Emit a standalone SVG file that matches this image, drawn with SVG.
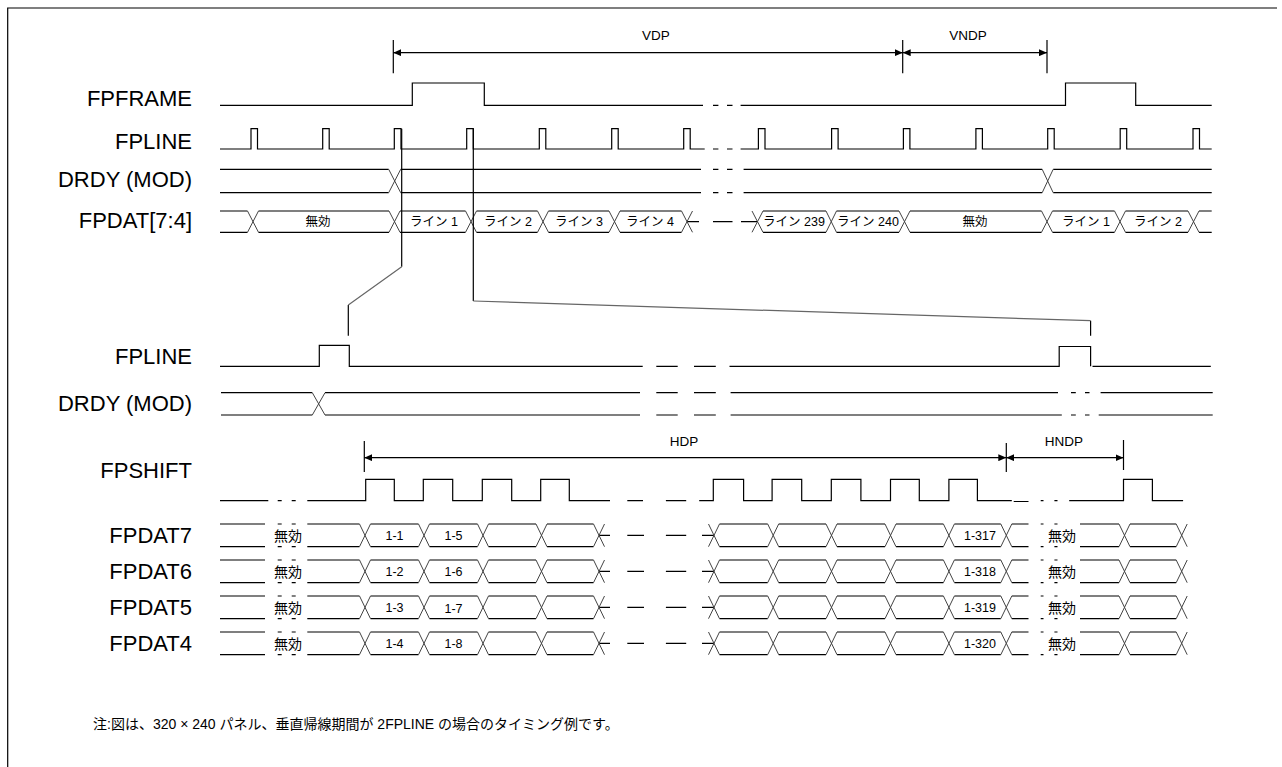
<svg xmlns="http://www.w3.org/2000/svg" width="1282" height="767" viewBox="0 0 1282 767">
<style>
.s{fill:none;stroke:#000;stroke-width:1.2}
.x{fill:none;stroke:#444;stroke-width:1}
.c{fill:none;stroke:#666;stroke-width:1.2}
.d{fill:none;stroke:#000;stroke-width:1.2;marker-start:url(#ah);marker-end:url(#ah)}
.lbl{font-family:"Liberation Sans",Arial,sans-serif;font-size:22px;text-anchor:end;fill:#000}
.dim{font-family:"Liberation Sans",Arial,sans-serif;font-size:13.5px;text-anchor:middle;fill:#000}
.jp{font-family:"Liberation Sans","Noto Sans CJK JP",sans-serif;font-size:12.5px;text-anchor:middle;fill:#000}
.jl{font-family:"Liberation Sans","Noto Sans CJK JP",sans-serif;font-size:14px;text-anchor:middle;fill:#000}
.nt{font-family:"Liberation Sans","Noto Sans CJK JP",sans-serif;font-size:14px;fill:#000}
</style>
<defs>
<marker id="ah" viewBox="0 0 8 7" refX="8" refY="3.5" markerWidth="8" markerHeight="7" markerUnits="userSpaceOnUse" orient="auto-start-reverse"><path d="M0,0 L8,3.5 L0,7 z" fill="#000"/></marker>
</defs>
<rect width="1282" height="767" fill="#fff"/>
<g id="frame"><path class="s" d="M7.7,767 V8 H1277" stroke-width="1.5"/></g>

<g id="dim-vdp">
<path class="s" d="M393.3,40 V73.3 M902.7,40 V73.3 M1047,40 V73.3"/>
<path class="d" d="M393.3,52.7 H902.7"/>
<text class="dim" x="656" y="40">VDP</text>
</g>
<g id="dim-vndp">
<path class="d" d="M902.7,52.7 H1047"/>
<text class="dim" x="968" y="40">VNDP</text>
</g>

<g id="fpframe">
<text class="lbl" x="192" y="106">FPFRAME</text>
<path class="s" d="M220,105.3 H412.3 V83 H484.3 V105.3 H703 M713,105.3 H718.4 M727,105.3 H732.5 M740.6,105.3 H1065.5 V83 H1135.7 V105.3 H1211.7"/>
</g>

<g id="fpline-top">
<text class="lbl" x="192" y="149">FPLINE</text>
<path class="s" d="M220,149 H251 V128.7 H257.5 V149 H322.7 V128.7 H329.2 V149 H394.3 V128.7 H401 V149 H466.7 V128.7 H473.3 V149 H539.3 V128.7 H545.8 V149 H611.7 V128.7 H618.2 V149 H683.7 V128.7 H690.2 V149 H704.7 M713,149 H718.4 M727,149 H732.5 M740.6,149 H758.4 V128.7 H765 V149 H831.6 V128.7 H838.1 V149 H903.4 V128.7 H909.9 V149 H975.9 V128.7 H982.4 V149 H1047.7 V128.7 H1054.2 V149 H1120.2 V128.7 H1126.7 V149 H1193 V128.7 H1199.5 V149 H1211.7"/>
</g>

<g id="drdy-top">
<text class="lbl" x="192" y="187">DRDY (MOD)</text>
<path class="s" d="M220,169.3 H388.7 M400.7,169.3 H701 M713,169.3 H718.4 M727,169.3 H732.5 M743.6,169.3 H1042.2 M1053.2,169.3 H1211.7 M220,192.7 H388.7 M400.7,192.7 H701 M713,192.7 H718.4 M727,192.7 H732.5 M743.6,192.7 H1042.2 M1053.2,192.7 H1211.7"/>
<path class="x" d="M388.7,169.3 L400.7,192.7 M388.7,192.7 L400.7,169.3 M1042.2,169.3 L1053.2,192.7 M1042.2,192.7 L1053.2,169.3"/>
</g>

<g id="fpdat74">
<text class="lbl" x="192" y="228">FPDAT[7:4]</text>
<path class="s" d="M220,211 H247.5 M258.5,211 H389 M400,211 H465.5 M476.5,211 H537.5 M548.5,211 H609 M620,211 H681.5 M763,211 H826 M836.5,211 H899 M910,211 H1041.5 M1052.5,211 H1114.5 M1125.5,211 H1188 M1199,211 H1211.7 M220,232.3 H247.5 M258.5,232.3 H389 M400,232.3 H465.5 M476.5,232.3 H537.5 M548.5,232.3 H609 M620,232.3 H681.5 M763,232.3 H826 M836.5,232.3 H899 M910,232.3 H1041.5 M1052.5,232.3 H1114.5 M1125.5,232.3 H1188 M1199,232.3 H1211.7 M687,221.7 H699 M713,221.7 H732.5 M741,221.7 H757.5"/>
<path class="x" d="M247.5,211 L258.5,232.3 M247.5,232.3 L258.5,211 M389,211 L400,232.3 M389,232.3 L400,211 M465.5,211 L476.5,232.3 M465.5,232.3 L476.5,211 M537.5,211 L548.5,232.3 M537.5,232.3 L548.5,211 M609,211 L620,232.3 M609,232.3 L620,211 M681.5,211 L692.5,232.3 M681.5,232.3 L692.5,211 M752,211 L763,232.3 M752,232.3 L763,211 M826,211 L836.5,232.3 M826,232.3 L836.5,211 M899,211 L910,232.3 M899,232.3 L910,211 M1041.5,211 L1052.5,232.3 M1041.5,232.3 L1052.5,211 M1114.5,211 L1125.5,232.3 M1114.5,232.3 L1125.5,211 M1188,211 L1199,232.3 M1188,232.3 L1199,211"/>
<text class="jp" x="318" y="226">無効</text>
<text class="jp" x="434" y="226">ライン 1</text>
<text class="jp" x="508" y="226">ライン 2</text>
<text class="jp" x="579" y="226">ライン 3</text>
<text class="jp" x="650" y="226">ライン 4</text>
<text class="jp" x="794" y="226">ライン 239</text>
<text class="jp" x="868" y="226">ライン 240</text>
<text class="jp" x="975" y="226">無効</text>
<text class="jp" x="1086" y="226">ライン 1</text>
<text class="jp" x="1158" y="226">ライン 2</text>
</g>

<g id="connectors">
<path class="s" d="M401.7,128.7 V266.7 M348.3,305 V335.7 M473.3,128.7 V301 M1090.6,320.7 V335.7"/>
<path class="c" d="M401.7,266.7 L348.3,305 M473.3,301 L1090.6,320.7"/>
</g>

<g id="fpline-bottom">
<text class="lbl" x="192" y="364">FPLINE</text>
<path class="s" d="M220,366.3 H319.3 V345.3 H349.3 V366.3 H642.7 M656.3,366.3 H677.7 M694,366.3 H715.8 M729.5,366.3 H1059.2 V346.5 H1090.6 V366.3 M1092.5,366.3 H1210.8"/>
</g>

<g id="drdy-bottom">
<text class="lbl" x="192" y="411">DRDY (MOD)</text>
<path class="s" d="M221,392.7 H312.3 M325,392.7 H640 M656.3,392.7 H677.7 M694,392.7 H715.8 M730.6,392.7 H1058 M1071,392.7 H1075.8 M1085,392.7 H1089.5 M1100.6,392.7 H1212.7 M221,415 H312.3 M325,415 H640 M656.3,415 H677.7 M694,415 H715.8 M730.6,415 H1061.8 M1071,415 H1075.8 M1085,415 H1089.5 M1098.7,415 H1212.7"/>
<path class="x" d="M312.3,392.7 L325,415 M312.3,415 L325,392.7"/>
</g>

<g id="dim-hdp">
<path class="s" d="M364.3,441 V472 M1006.3,443 V472 M1123.5,440 V470"/>
<path class="d" d="M364.3,457.7 H1006.3"/>
<text class="dim" x="684" y="446">HDP</text>
</g>
<g id="dim-hndp">
<path class="d" d="M1006.3,457.7 H1123.5"/>
<text class="dim" x="1064" y="446">HNDP</text>
</g>

<g id="fpshift">
<text class="lbl" x="192" y="478">FPSHIFT</text>
<path class="s" d="M220,500.7 H268.3 M277.7,500.7 H281.7 M291.7,500.7 H295.7 M307.3,500.7 H365.7 V479.3 H394.3 V500.7 H423.3 V479.3 H452.7 V500.7 H482.3 V479.3 H511.7 V500.7 H540.7 V479.3 H569.3 V500.7 H610 M627.3,500.7 H643 M665.9,500.7 H686.2 M699.2,500.7 H713.3 V479.3 H743.6 V500.7 H772.1 V479.3 H801.7 V500.7 H831.3 V479.3 H860.9 V500.7 H890.5 V479.3 H919.3 V500.7 H948.9 V479.3 H977.4 V500.7 H1011.8 M1013.7,501.5 H1028.5 M1040.7,500.7 H1043.5 M1054.4,500.7 H1057.5 M1069.2,500.7 H1123.5 V479.3 H1152.4 V500.7 H1183.1"/>
</g>

<defs>
<g id="busrow">
<path class="s" d="M220,0 H265 M277.7,0 H281.7 M291.7,0 H295.7 M307.3,0 H359.5 M370.5,0 H418.5 M429.5,0 H477.5 M488.5,0 H536 M547,0 H593.5 M719.5,0 H767.7 M778.7,0 H826 M837,0 H885 M896,0 H943.4 M954.4,0 H1000.8 M1011.8,0 H1028.5 M1040.7,0 H1043.5 M1054.4,0 H1057.5 M1080,0 H1119 M1130,0 H1176.2 M220,22.7 H265 M277.7,22.7 H281.7 M291.7,22.7 H295.7 M307.3,22.7 H359.5 M370.5,22.7 H418.5 M429.5,22.7 H477.5 M488.5,22.7 H536 M547,22.7 H593.5 M719.5,22.7 H767.7 M778.7,22.7 H826 M837,22.7 H885 M896,22.7 H943.4 M954.4,22.7 H1000.8 M1011.8,22.7 H1028.5 M1040.7,22.7 H1043.5 M1054.4,22.7 H1057.5 M1080,22.7 H1119 M1130,22.7 H1176.2 M599,11.35 H610 M627.3,11.35 H644 M665.9,11.35 H686.2 M702,11.35 H714"/>
<path class="x" d="M359.5,0 L370.5,22.7 M359.5,22.7 L370.5,0 M418.5,0 L429.5,22.7 M418.5,22.7 L429.5,0 M477.5,0 L488.5,22.7 M477.5,22.7 L488.5,0 M536,0 L547,22.7 M536,22.7 L547,0 M593.5,0 L604.5,22.7 M593.5,22.7 L604.5,0 M708.5,0 L719.5,22.7 M708.5,22.7 L719.5,0 M767.7,0 L778.7,22.7 M767.7,22.7 L778.7,0 M826,0 L837,22.7 M826,22.7 L837,0 M885,0 L896,22.7 M885,22.7 L896,0 M943.4,0 L954.4,22.7 M943.4,22.7 L954.4,0 M1000.8,0 L1011.8,22.7 M1000.8,22.7 L1011.8,0 M1119,0 L1130,22.7 M1119,22.7 L1130,0 M1176.2,0 L1187.2,22.7 M1176.2,22.7 L1187.2,0"/>
<text class="jl" x="288" y="16.5">無効</text>
<text class="jl" x="1062" y="16.5">無効</text>
</g>
</defs>

<g id="fpdat7">
<text class="lbl" x="192" y="543">FPDAT7</text>
<use href="#busrow" transform="translate(0,524)"/>
<text class="jp" x="394.5" y="539.7">1-1</text>
<text class="jp" x="453.5" y="539.7">1-5</text>
<text class="jp" x="980" y="539.7">1-317</text>
</g>
<g id="fpdat6">
<text class="lbl" x="192" y="579">FPDAT6</text>
<use href="#busrow" transform="translate(0,560)"/>
<text class="jp" x="394.5" y="575.7">1-2</text>
<text class="jp" x="453.5" y="575.7">1-6</text>
<text class="jp" x="980" y="575.7">1-318</text>
</g>
<g id="fpdat5">
<text class="lbl" x="192" y="615">FPDAT5</text>
<use href="#busrow" transform="translate(0,596)"/>
<text class="jp" x="394.5" y="611.7">1-3</text>
<text class="jp" x="453.5" y="612.7">1-7</text>
<text class="jp" x="980" y="611.7">1-319</text>
</g>
<g id="fpdat4">
<text class="lbl" x="192" y="651">FPDAT4</text>
<use href="#busrow" transform="translate(0,632)"/>
<text class="jp" x="394.5" y="647.7">1-4</text>
<text class="jp" x="453.5" y="647.7">1-8</text>
<text class="jp" x="980" y="647.7">1-320</text>
</g>

<g id="note">
<text class="nt" x="93" y="729">注:図は、320 × 240 パネル、垂直帰線期間が 2FPLINE の場合のタイミング例です。</text>
</g>
</svg>
